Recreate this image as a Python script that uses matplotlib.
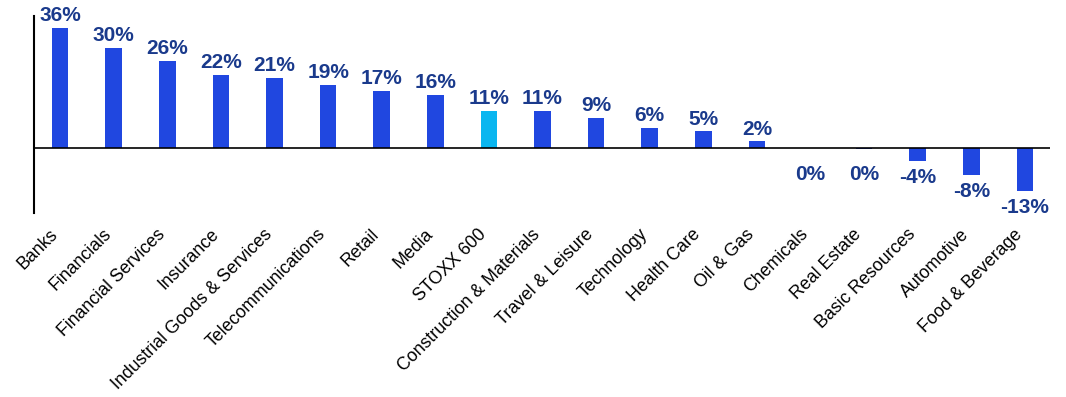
import matplotlib
matplotlib.use('agg')
import matplotlib.pyplot as plt

plt.rcParams['font.family'] = ['Liberation Sans', 'DejaVu Sans']

SECTORS = [
    'Banks', 'Financials', 'Financial Services', 'Insurance',
    'Industrial Goods & Services', 'Telecommunications', 'Retail', 'Media',
    'STOXX 600', 'Construction & Materials', 'Travel & Leisure', 'Technology',
    'Health Care', 'Oil & Gas', 'Chemicals', 'Real Estate', 'Basic Resources',
    'Automotive', 'Food & Beverage',
]
RETURNS = [36, 30, 26, 22, 21, 19, 17, 16, 11, 11, 9, 6, 5, 2,
           -0.1, -0.3, -4, -8, -13]
HIGHLIGHT = 'STOXX 600'

BAR_BLUE   = '#2047E0'
LIGHT_BLUE = '#0AB6F0'
LABEL_BLUE = '#1A3A8C'


def main():
    fig = plt.figure(figsize=(10.66, 3.97), dpi=100)
    ax = fig.add_axes([0.032, 0.4635, 0.953, 0.4965])

    x = list(range(len(SECTORS)))
    colors = [LIGHT_BLUE if s == HIGHLIGHT else BAR_BLUE for s in SECTORS]
    ax.bar(x, RETURNS, width=0.31, color=colors, zorder=2)
    ax.axhline(0, color='black', linewidth=1.2, zorder=3)

    for xi, v in zip(x, RETURNS):
        text = f'{round(v)}%'
        if v > 0:
            ax.annotate(text, (xi, v), xytext=(0, 2), textcoords='offset points',
                        ha='center', va='bottom', fontsize=15, fontweight='bold',
                        color=LABEL_BLUE)
        else:
            # labels of flat/negative bars sit below the bar end
            ax.annotate(text, (xi, min(v, -3)), xytext=(0, -5),
                        textcoords='offset points', ha='center', va='top',
                        fontsize=15, fontweight='bold', color=LABEL_BLUE)

    # category names, slanted, hanging under the bottom of the axes
    for xi, name in zip(x, SECTORS):
        ax.annotate(name, (xi, 0), xycoords=ax.get_xaxis_transform(),
                    xytext=(-3.6, -13.5), textcoords='offset points',
                    rotation=45, rotation_mode='anchor', ha='right',
                    va='center', fontsize=12.8, annotation_clip=False)

    ax.set_xlim(-0.485, 18.47)
    ax.set_ylim(-19.5, 39.6)
    ax.set_xticks([])
    ax.set_yticks([])
    for side in ('top', 'right', 'bottom'):
        ax.spines[side].set_visible(False)
    ax.spines['left'].set_linewidth(1.5)

    fig.savefig('out.png', dpi=100)
    plt.close(fig)


if __name__ == '__main__':
    main()
